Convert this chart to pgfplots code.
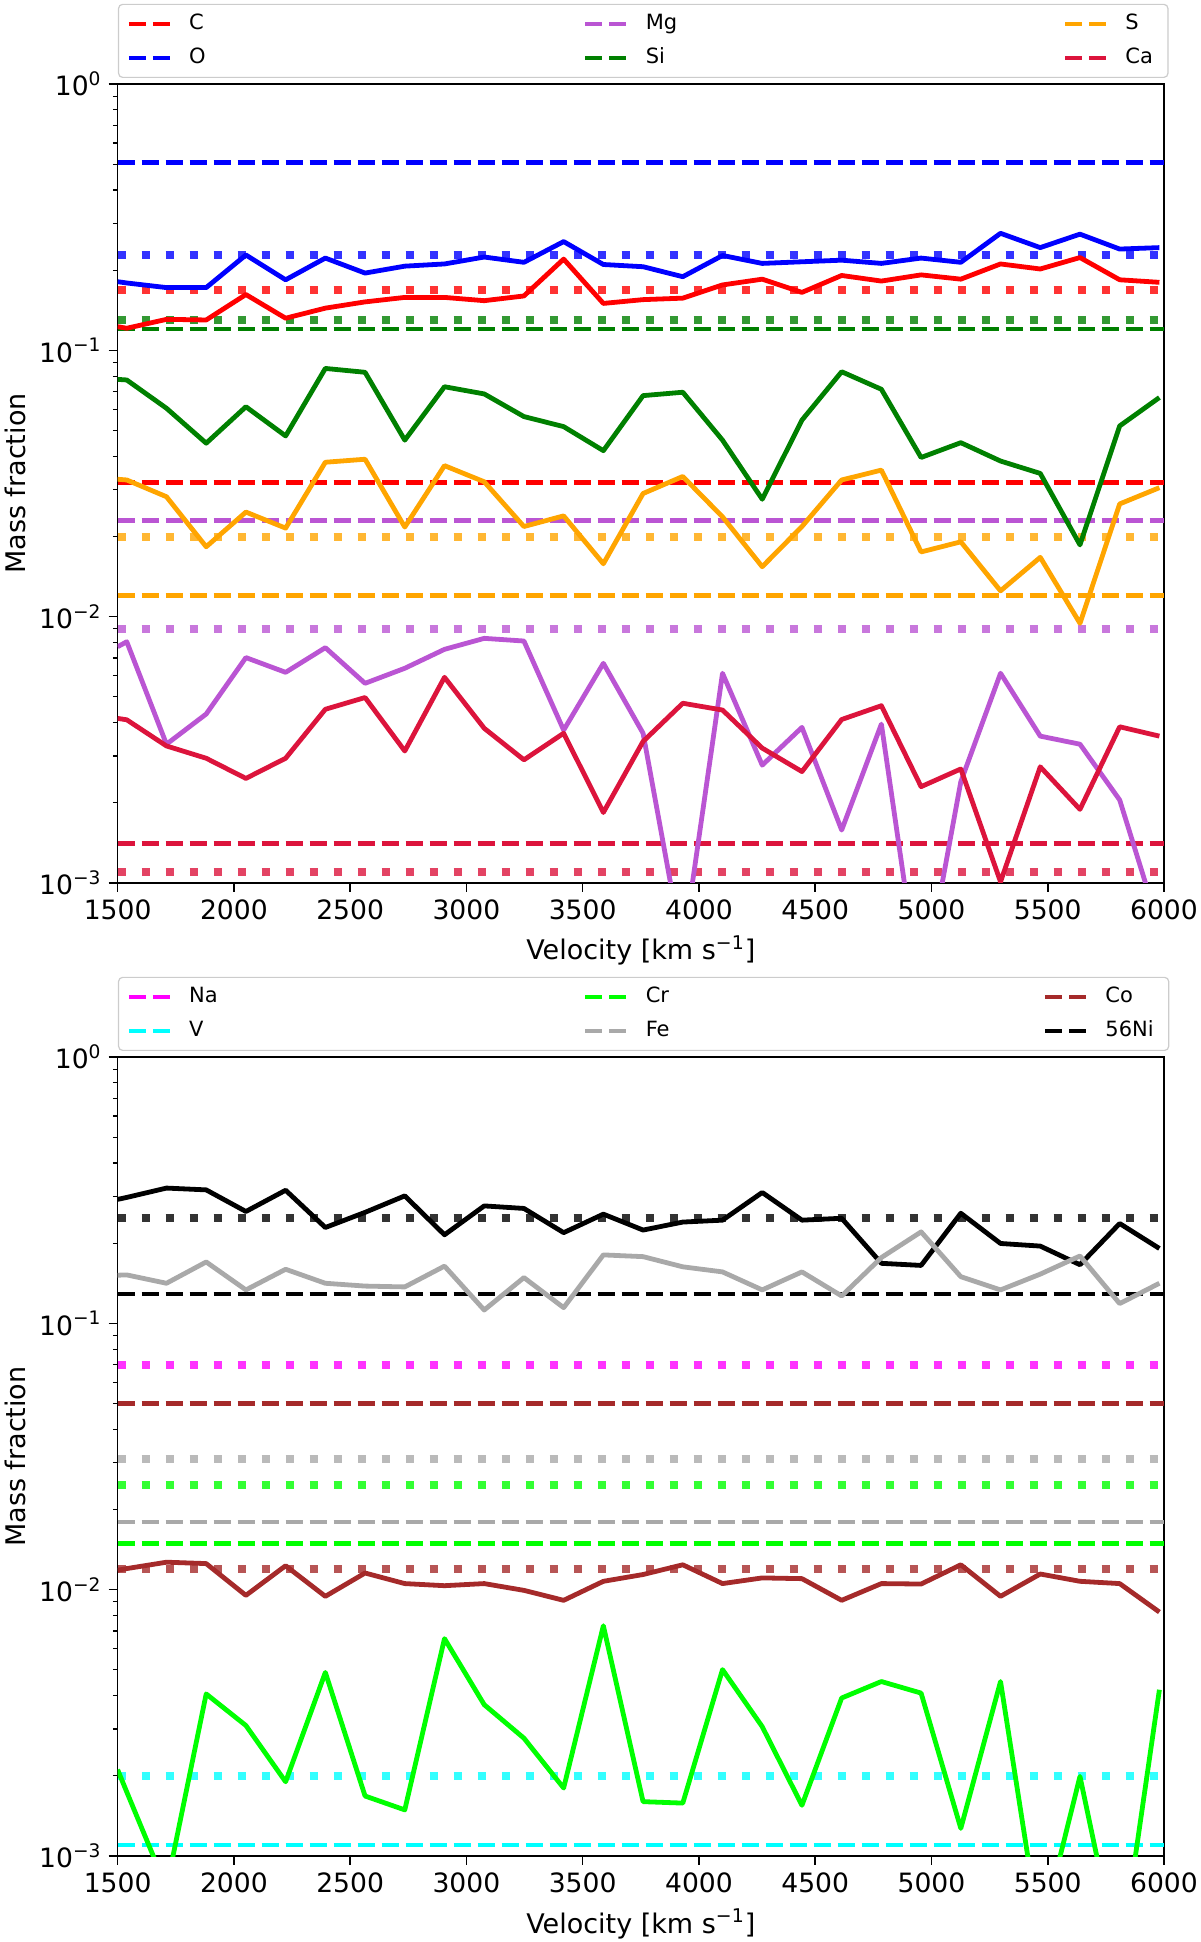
\documentclass[border=0pt]{standalone}
\usepackage{fontspec}
\setmainfont{DejaVu Sans}
\usepackage{pgfplots}
\pgfplotsset{compat=1.18}
\usepackage{pgfplotstable}

\definecolor{cC}{HTML}{FF0000}
\definecolor{cO}{HTML}{0000FF}
\definecolor{cMg}{HTML}{BA55D3}
\definecolor{cSi}{HTML}{008000}
\definecolor{cS}{HTML}{FFA500}
\definecolor{cCa}{HTML}{DC143C}
\definecolor{cNa}{HTML}{FF00FF}
\definecolor{cV}{HTML}{00FFFF}
\definecolor{cCr}{HTML}{00FF00}
\definecolor{cFe}{HTML}{A9A9A9}
\definecolor{cCo}{HTML}{A52A2A}
\definecolor{cNi}{HTML}{000000}

\pgfplotstableread{
x      O     C      Si     S       Mg      Ca
1500   0.181 0.1227 0.0778 0.0328  0.00771 0.00415
1539.4 0.179 0.121  0.0774 0.0326  0.00805 0.0041
1710.2 0.172 0.1307 0.0606 0.0282  0.00332 0.00327
1881.0 0.172 0.130  0.0448 0.0183  0.00431 0.00294
2051.8 0.228 0.162  0.0614 0.0247  0.00702 0.00247
2222.6 0.184 0.132  0.0477 0.0215  0.00618 0.00294
2393.4 0.222 0.144  0.0855 0.0380  0.00765 0.00449
2564.2 0.195 0.152  0.0827 0.0390  0.00562 0.00497
2735.0 0.207 0.158  0.0460 0.0217  0.00640 0.00313
2905.8 0.211 0.158  0.0730 0.0369  0.00754 0.00592
3076.6 0.224 0.1536 0.0686 0.0321  0.00829 0.00381
3247.4 0.214 0.160  0.0564 0.0218  0.00810 0.00290
3418.2 0.256 0.220  0.0517 0.0239  0.00375 0.00365
3589.0 0.210 0.150  0.0420 0.0158  0.00668 0.00184
3759.8 0.206 0.155  0.0676 0.0290  0.00365 0.00340
3930.6 0.189 0.157  0.0696 0.0336  0.00056 0.00473
4101.4 0.227 0.176  0.0460 0.0237  0.00613 0.00446
4272.2 0.212 0.185  0.0276 0.0154  0.00277 0.00321
4443.0 0.215 0.165  0.0547 0.0218  0.00384 0.00262
4613.8 0.218 0.191  0.0831 0.0326  0.00158 0.00411
4784.6 0.212 0.182  0.0714 0.0355  0.00395 0.00463
4955.4 0.222 0.192  0.0396 0.0175  0.00037 0.00230
5126.2 0.214 0.185  0.0450 0.0191  0.0024  0.00268
5297.0 0.275 0.211  0.0384 0.0125  0.00613 0.00101
5467.8 0.243 0.202  0.0345 0.0167  0.00356 0.00273
5638.6 0.273 0.223  0.0186 0.00944 0.00332 0.00189
5809.4 0.240 0.184  0.0520 0.0265  0.00205 0.00386
5980.2 0.243 0.180  0.0665 0.0305  0.00068 0.00356
}\toptab

\pgfplotstableread{
x      Ni     Fe     Co      Cr
1500   0.292  0.1516 0.01183 0.00211
1539.4 0.297  0.152  0.0120  0.00174
1710.2 0.322  0.1414 0.01268 0.00076
1881.0 0.317  0.170  0.01253 0.00406
2051.8 0.263  0.1335 0.00952 0.00309
2222.6 0.316  0.1596 0.0123  0.0019
2393.4 0.229  0.1414 0.00944 0.00489
2564.2 0.261  0.138  0.01155 0.00168
2735.0 0.301  0.137  0.01054 0.00149
2905.8 0.215  0.164  0.01035 0.00655
3076.6 0.276  0.1122 0.01054 0.0037
3247.4 0.270  0.1485 0.00994 0.00277
3418.2 0.219  0.1145 0.00912 0.00180
3589.0 0.257  0.1807 0.01075 0.00732
3759.8 0.224  0.178  0.0114  0.0016
3930.6 0.240  0.163  0.0124  0.00158
4101.4 0.244  0.156  0.01054 0.00501
4272.2 0.310  0.1335 0.01107 0.00306
4443.0 0.244  0.156  0.0110  0.00155
4613.8 0.248  0.1267 0.00912 0.00392
4784.6 0.168  0.1766 0.01054 0.00452
4955.4 0.165  0.2205 0.0105  0.00409
5126.2 0.259  0.1497 0.0124  0.00127
5297.0 0.1995 0.1335 0.00944 0.00452
5467.8 0.195  0.153  0.01145 0.0005
5638.6 0.166  0.179  0.01075 0.00199
5809.4 0.237  0.1186 0.01054 0.00039
5980.2 0.191  0.1414 0.00824 0.00421
}\bottab

\tikzset{
  dashline/.style={line width=2.2pt, dash pattern=on 8.5pt off 3.5pt},
  dotline/.style={line width=4pt, dash pattern=on 4pt off 8pt, opacity=0.8},
  solidline/.style={line width=2.4pt, line join=round},
}

\begin{document}
\begin{tikzpicture}
\useasboundingbox (0pt,0pt) rectangle (600pt,971pt);
\begin{axis}[
    at={(58.8pt,529.5pt)}, anchor=south west,
    scale only axis, width=523.2pt, height=399.5pt,
    xmin=1500, xmax=6000, ymode=log, ymin=1e-3, ymax=1,
    xtick={1500,2000,2500,3000,3500,4000,4500,5000,5500,6000},
    xticklabels={1500,2000,2500,3000,3500,4000,4500,5000,5500,6000},
    scaled x ticks=false,
    ytick={1e-3,1e-2,1e-1,1},
    yticklabels={10\textsuperscript{−3},10\textsuperscript{−2},10\textsuperscript{−1},10\textsuperscript{0}},
    minor ytick={2e-3,3e-3,4e-3,5e-3,6e-3,7e-3,8e-3,9e-3,2e-2,3e-2,4e-2,5e-2,6e-2,7e-2,8e-2,9e-2,2e-1,3e-1,4e-1,5e-1,6e-1,7e-1,8e-1,9e-1},
    tick align=outside, tick pos=left,
    major tick length=4.5pt, minor tick length=2.4pt,
    major tick style={black, line width=0.8pt},
    minor tick style={black, line width=0.6pt},
    axis line style={line width=0.8pt},
    tick label style={font=\fontsize{13.3}{16}\selectfont},
    xticklabel style={anchor=base, yshift=-14pt},
    yticklabel style={anchor=east},
    xlabel style={at={(axis description cs:0.5,0)}, anchor=base, yshift=-38.5pt, font=\fontsize{13.5}{16}\selectfont},
    ylabel style={at={(axis description cs:-0.098,0.5)}, anchor=center, font=\fontsize{13.5}{16}\selectfont},
    xlabel={Velocity [km s\textsuperscript{−1}]},
    ylabel={Mass fraction},
    legend columns=3,
    legend cell align=left,
    legend image code/.code={\draw[#1] (0pt,0pt) -- (21pt,0pt);},
    legend style={at={(0,1)}, anchor=south west, yshift=3pt, xshift=0.2pt,
      draw=black!20, line width=0.6pt, rounded corners=2pt,
      inner xsep=4pt, inner ysep=1.25pt,
      font=\fontsize{10.5}{12}\selectfont,
      nodes={text height=8pt, text depth=2.5pt, inner ysep=3.25pt, inner xsep=3.5pt},
      /tikz/every odd column/.append style={column sep=4.6pt}},
  ]
  \addplot[dotline, cO, forget plot]  coordinates {(1500,0.228) (6000,0.228)};
  \addplot[dotline, cC, forget plot]  coordinates {(1500,0.168) (6000,0.168)};
  \addplot[dotline, cSi, forget plot] coordinates {(1500,0.130) (6000,0.130)};
  \addplot[dotline, cS, forget plot]  coordinates {(1500,0.0199) (6000,0.0199)};
  \addplot[dotline, cMg, forget plot] coordinates {(1500,0.00897) (6000,0.00897)};
  \addplot[dotline, cCa, forget plot] coordinates {(1500,0.0011) (6000,0.0011)};
  \addplot[dashline, cC]  coordinates {(1500,0.0319) (6000,0.0319)};
  \addlegendentry{\makebox[193.5pt][l]{C}}
  \addplot[dashline, cMg] coordinates {(1500,0.0230) (6000,0.0230)};
  \addlegendentry{\makebox[205pt][l]{Mg}}
  \addplot[dashline, cS]  coordinates {(1500,0.0120) (6000,0.0120)};
  \addlegendentry{S}
  \addplot[dashline, cO]  coordinates {(1500,0.508) (6000,0.508)};
  \addlegendentry{\makebox[193.5pt][l]{O}}
  \addplot[dashline, cSi] coordinates {(1500,0.120) (6000,0.120)};
  \addlegendentry{\makebox[205pt][l]{Si}}
  \addplot[dashline, cCa] coordinates {(1500,0.001406) (6000,0.001406)};
  \addlegendentry{Ca}
  \addplot[solidline, cO, forget plot]  table[x=x,y=O]  {\toptab};
  \addplot[solidline, cC, forget plot]  table[x=x,y=C]  {\toptab};
  \addplot[solidline, cSi, forget plot] table[x=x,y=Si] {\toptab};
  \addplot[solidline, cS, forget plot]  table[x=x,y=S]  {\toptab};
  \addplot[solidline, cMg, forget plot] table[x=x,y=Mg] {\toptab};
  \addplot[solidline, cCa, forget plot] table[x=x,y=Ca] {\toptab};
\end{axis}

\begin{axis}[
    at={(58.8pt,43pt)}, anchor=south west,
    scale only axis, width=523.2pt, height=399.5pt,
    xmin=1500, xmax=6000, ymode=log, ymin=1e-3, ymax=1,
    xtick={1500,2000,2500,3000,3500,4000,4500,5000,5500,6000},
    xticklabels={1500,2000,2500,3000,3500,4000,4500,5000,5500,6000},
    scaled x ticks=false,
    ytick={1e-3,1e-2,1e-1,1},
    yticklabels={10\textsuperscript{−3},10\textsuperscript{−2},10\textsuperscript{−1},10\textsuperscript{0}},
    minor ytick={2e-3,3e-3,4e-3,5e-3,6e-3,7e-3,8e-3,9e-3,2e-2,3e-2,4e-2,5e-2,6e-2,7e-2,8e-2,9e-2,2e-1,3e-1,4e-1,5e-1,6e-1,7e-1,8e-1,9e-1},
    tick align=outside, tick pos=left,
    major tick length=4.5pt, minor tick length=2.4pt,
    major tick style={black, line width=0.8pt},
    minor tick style={black, line width=0.6pt},
    axis line style={line width=0.8pt},
    tick label style={font=\fontsize{13.3}{16}\selectfont},
    xticklabel style={anchor=base, yshift=-14pt},
    yticklabel style={anchor=east},
    xlabel style={at={(axis description cs:0.5,0)}, anchor=base, yshift=-38.5pt, font=\fontsize{13.5}{16}\selectfont},
    ylabel style={at={(axis description cs:-0.098,0.5)}, anchor=center, font=\fontsize{13.5}{16}\selectfont},
    xlabel={Velocity [km s\textsuperscript{−1}]},
    ylabel={Mass fraction},
    legend columns=3,
    legend cell align=left,
    legend image code/.code={\draw[#1] (0pt,0pt) -- (21pt,0pt);},
    legend style={at={(0,1)}, anchor=south west, yshift=3pt, xshift=0.2pt,
      draw=black!20, line width=0.6pt, rounded corners=2pt,
      inner xsep=4pt, inner ysep=1.25pt,
      font=\fontsize{10.5}{12}\selectfont,
      nodes={text height=8pt, text depth=2.5pt, inner ysep=3.25pt, inner xsep=3.5pt},
      /tikz/every odd column/.append style={column sep=4.6pt}},
  ]
  \addplot[dotline, cNi, forget plot] coordinates {(1500,0.248) (6000,0.248)};
  \addplot[dotline, cNa, forget plot] coordinates {(1500,0.0697) (6000,0.0697)};
  \addplot[dotline, cFe, forget plot] coordinates {(1500,0.0310) (6000,0.0310)};
  \addplot[dotline, cCr, forget plot] coordinates {(1500,0.0248) (6000,0.0248)};
  \addplot[dotline, cCo, forget plot] coordinates {(1500,0.01197) (6000,0.01197)};
  \addplot[dotline, cV, forget plot]  coordinates {(1500,0.00199) (6000,0.00199)};
  \addplot[dashline, cNa] coordinates {(1500,1e-4) (6000,1e-4)};
  \addlegendentry{\makebox[193.5pt][l]{Na}}
  \addplot[dashline, cCr] coordinates {(1500,0.0149) (6000,0.0149)};
  \addlegendentry{\makebox[195pt][l]{Cr}}
  \addplot[dashline, cCo] coordinates {(1500,0.0500) (6000,0.0500)};
  \addlegendentry{Co}
  \addplot[dashline, cV]  coordinates {(1500,0.0011) (6000,0.0011)};
  \addlegendentry{\makebox[193.5pt][l]{V}}
  \addplot[dashline, cFe] coordinates {(1500,0.01797) (6000,0.01797)};
  \addlegendentry{\makebox[195pt][l]{Fe}}
  \addplot[dashline, cNi] coordinates {(1500,0.129) (6000,0.129)};
  \addlegendentry{56Ni}
  \addplot[solidline, cNi, forget plot] table[x=x,y=Ni] {\bottab};
  \addplot[solidline, cFe, forget plot] table[x=x,y=Fe] {\bottab};
  \addplot[solidline, cCo, forget plot] table[x=x,y=Co] {\bottab};
  \addplot[solidline, cCr, forget plot] table[x=x,y=Cr] {\bottab};
\end{axis}
\end{tikzpicture}
\end{document}
